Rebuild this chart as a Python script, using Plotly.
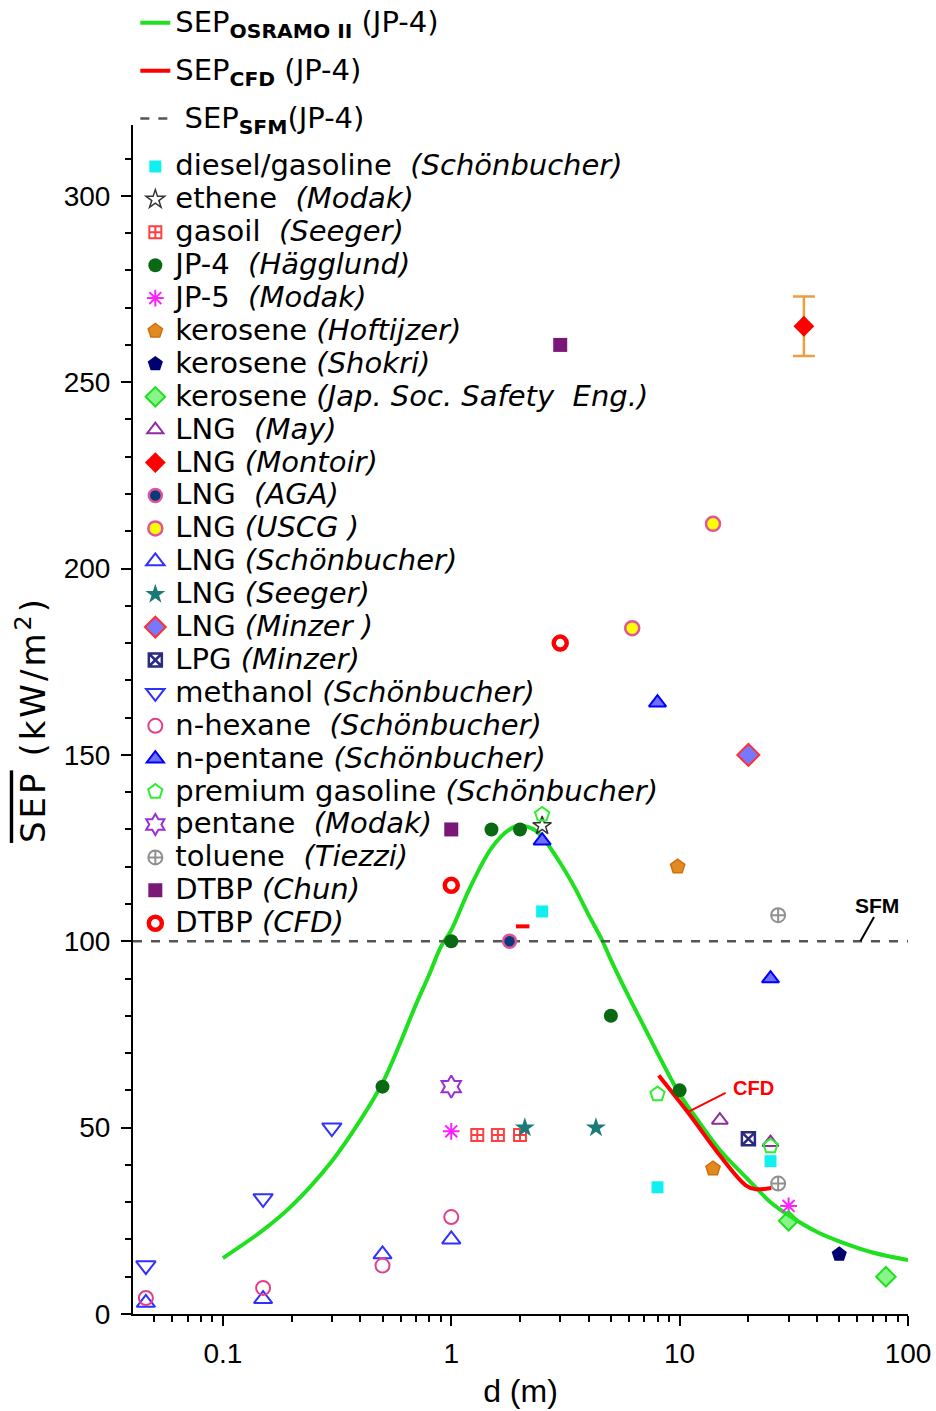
import math
import plotly.graph_objects as go

# ---------------- data ----------------
osramo_x = [0.1, 0.15, 0.2, 0.3, 0.4, 0.5, 0.6, 0.7, 0.8, 0.9, 1.0, 1.2, 1.5, 1.8, 2.0, 2.3, 2.5, 3.0, 3.5, 4.0, 4.6,
            5.0, 6.0, 7.0, 8.0, 10, 12, 15, 20, 25, 30, 40, 50, 70, 100]
osramo_y = [15, 22.5, 29, 41, 52, 62, 73, 83, 91, 98.5, 103, 114, 125, 130, 131, 130, 128, 121, 114, 107, 100,
            95, 85, 77, 70, 59, 52, 44, 36, 30, 26.5, 22, 19.5, 16.5, 14.5]

cfd_x = [8.1, 10.9, 14.8, 19.4, 21.4, 25.2]
cfd_y = [64, 54, 43, 34.6, 33.5, 33.8]
cfd_mark_x = [1.92, 2.2]
cfd_mark_y = [104, 104]

sfm_x = [0.0404, 100]
sfm_y = [100, 100]

diesel_x, diesel_y = [2.5, 8.0, 25], [108, 34, 41]
ethene_x, ethene_y = [2.5], [131]
gasoil_x, gasoil_y = [1.3, 1.6, 2.0], [48, 48, 48]
jp4_x, jp4_y = [0.5, 1.0, 1.5, 2.0, 5.0, 10], [61, 100, 130, 130, 80, 60]
jp5_x, jp5_y = [1.0, 30], [49, 29]
ker_hof_x, ker_hof_y = [9.8, 14], [120, 39]
ker_sho_x, ker_sho_y = [50], [16]
ker_jap_x, ker_jap_y = [30, 80], [25, 10]
lng_may_x, lng_may_y = [15, 25], [52, 46]
lng_mon_x, lng_mon_y, lng_mon_err = [35], [265], [8]
lng_aga_x, lng_aga_y = [1.8], [100]
lng_uscg_x, lng_uscg_y = [6.2, 14], [184, 212]
lng_sch_x, lng_sch_y = [0.046, 0.15, 0.5, 1.0], [3, 4, 16, 20]
lng_see_x, lng_see_y = [2.1, 4.3], [50, 50]
lng_min_x, lng_min_y = [20], [150]
lpg_min_x, lpg_min_y = [20], [47]
meth_x, meth_y = [0.046, 0.15, 0.3], [13, 31, 50]
hex_x, hex_y = [0.046, 0.15, 0.5, 1.0], [4.3, 7, 13, 26]
npent_x, npent_y = [2.5, 8.0, 25], [127, 164, 90]
prem_x, prem_y = [2.5, 8.0, 25], [134, 59, 45]
pent_x, pent_y = [1.0], [61]
tol_x, tol_y = [27, 27], [107, 35]
dtbp_chun_x, dtbp_chun_y = [3.0, 1.0], [260, 130]
dtbp_cfd_x, dtbp_cfd_y = [3.0, 1.0], [180, 115]

x_tick_vals = [0.1, 1, 10, 100]
x_tick_text = ["0.1", "1", "10", "100"]
x_minor_vals = [0.05, 0.06, 0.07, 0.08, 0.09, 0.2, 0.3, 0.4, 0.5, 0.6, 0.7, 0.8, 0.9,
                2, 3, 4, 5, 6, 7, 8, 9, 20, 30, 40, 50, 60, 70, 80, 90]

sfm_label = dict(x=72.8, y=109.7, text="SFM")
sfm_leader = dict(x0=61.9, y0=100, x1=71.0, y1=106.5)
cfd_label = dict(x=21.1, y=60.6, text="CFD")
cfd_leader = dict(x0=10.9, y0=54.2, x1=15.9, y1=59.3)

# ---------------- figure ----------------
NB = "\u00a0"
LEG_SPAN = "<span style='font-size:29px'>{}</span>"
fig = go.Figure()


def lab(s):
    return LEG_SPAN.format(s)


fig.add_trace(go.Scatter(x=osramo_x, y=osramo_y, mode="lines", line=dict(color="#1EE01E", width=4, shape="spline"),
                         name=lab("SEP<sub><b>OSRAMO II</b></sub>" + NB + "(JP-4)"), legendgroup="g1"))
fig.add_trace(go.Scatter(x=cfd_x, y=cfd_y, mode="lines", line=dict(color="#FF0000", width=4, shape="spline"),
                         name=lab("SEP<sub><b>CFD</b></sub>" + NB + "(JP-4)"), legendgroup="g2"))
fig.add_trace(go.Scatter(x=cfd_mark_x, y=cfd_mark_y, mode="lines", line=dict(color="#FF0000", width=4),
                         showlegend=False, legendgroup="g2"))
fig.add_trace(go.Scatter(x=sfm_x, y=sfm_y, mode="lines", line=dict(color="#555555", width=2.5, dash="dash"),
                         name=lab(NB + "SEP<sub><b>SFM</b></sub>(JP-4)"), legendgroup="g3"))


def pts(x, y, name, symbol, color, size=13, lw=0, lc=None, **kw):
    fig.add_trace(go.Scatter(x=x, y=y, mode="markers", name=lab(name), legendgroup="g4",
                             marker=dict(symbol=symbol, color=color, size=size,
                                         line=dict(width=lw, color=lc if lc else color)), **kw))


pts(diesel_x, diesel_y, "diesel/gasoline" + NB + " <i>(Schönbucher)</i>", "square", "#10F0F0", 12)
pts(ethene_x, ethene_y, "ethene" + NB + " <i>(Modak)</i>", "star-open", "#333333", 14, 1.5)
pts(gasoil_x, gasoil_y, "gasoil" + NB + " <i>(Seeger)</i>", "square-cross-open", "#FF4040", 12, 2)
pts(jp4_x, jp4_y, "JP-4" + NB + " <i>(Hägglund)</i>", "circle", "#0A6A14", 14)
pts(jp5_x, jp5_y, "JP-5" + NB + " <i>(Modak)</i>", "asterisk-open", "#FF20FF", 14, 2)
pts(ker_hof_x, ker_hof_y, "kerosene <i>(Hoftijzer)</i>", "pentagon", "#E08A20", 15, 1.5, "#D07010")
pts(ker_sho_x, ker_sho_y, "kerosene <i>(Shokri)</i>", "pentagon", "#000070", 16)
pts(ker_jap_x, ker_jap_y, "kerosene <i>(Jap. Soc. Safety" + NB + " Eng.)</i>", "diamond", "rgba(40,235,40,0.55)", 15, 2, "#20E020")
pts(lng_may_x, lng_may_y, "LNG" + NB + " <i>(May)</i>", "triangle-up-open", "#8E2E9E", 14, 2)
pts(lng_mon_x, lng_mon_y, "LNG <i>(Montoir)</i>", "diamond", "#FF0000", 16,
    error_y=dict(type="data", array=lng_mon_err, color="#E8A040", thickness=2.5, width=11))
pts(lng_aga_x, lng_aga_y, "LNG" + NB + " <i>(AGA)</i>", "circle", "#0A3A7A", 13, 2.5, "#E0559A")
pts(lng_uscg_x, lng_uscg_y, "LNG <i>(USCG )</i>", "circle", "#FFFF00", 14, 2.5, "#E0559A")
pts(lng_sch_x, lng_sch_y, "LNG <i>(Schönbucher)</i>", "triangle-up-open", "#3030FF", 16, 2)
pts(lng_see_x, lng_see_y, "LNG <i>(Seeger)</i>", "star", "#1A7A7A", 15)
pts(lng_min_x, lng_min_y, "LNG <i>(Minzer )</i>", "diamond", "#7878FF", 17, 2, "#FF3030")
pts(lpg_min_x, lpg_min_y, "LPG <i>(Minzer)</i>", "square-x-open", "#2A2A80", 13, 2.5)
pts(meth_x, meth_y, "methanol <i>(Schönbucher)</i>", "triangle-down-open", "#3030FF", 17, 2)
pts(hex_x, hex_y, "n-hexane" + NB + " <i>(Schönbucher)</i>", "circle-open", "#E0408A", 14, 2)
pts(npent_x, npent_y, "n-pentane <i>(Schönbucher)</i>", "triangle-up", "#7070FF", 15, 2, "#0000FF")
pts(prem_x, prem_y, "premium gasoline <i>(Schönbucher)</i>", "pentagon-open", "#30EE30", 15, 2)
pts(pent_x, pent_y, "pentane" + NB + " <i>(Modak)</i>", "hexagram-open", "#9A30D0", 17, 2)
pts(tol_x, tol_y, "toluene" + NB + " <i>(Tiezzi)</i>", "circle-cross-open", "#909090", 14, 2)
pts(dtbp_chun_x, dtbp_chun_y, "DTBP <i>(Chun)</i>", "square", "#7A1878", 14)
pts(dtbp_cfd_x, dtbp_cfd_y, "DTBP <i>(CFD)</i>", "circle-open", "#FF0000", 13, 4.5)

fig.add_annotation(x=math.log10(sfm_label["x"]), y=sfm_label["y"], xref="x", yref="y", text="<b>SFM</b>",
                   showarrow=False, font=dict(size=21, color="black", family="Liberation Sans, Arial"))
fig.add_annotation(x=math.log10(cfd_label["x"]), y=cfd_label["y"], xref="x", yref="y", text="<b>CFD</b>",
                   showarrow=False, font=dict(size=20, color="#FF0000", family="Liberation Sans, Arial"))
fig.add_shape(type="line", xref="x", yref="y", x0=sfm_leader["x0"], y0=sfm_leader["y0"],
              x1=sfm_leader["x1"], y1=sfm_leader["y1"], line=dict(color="black", width=2))
fig.add_shape(type="line", xref="x", yref="y", x0=cfd_leader["x0"], y0=cfd_leader["y0"],
              x1=cfd_leader["x1"], y1=cfd_leader["y1"], line=dict(color="#FF0000", width=2))

fig.update_layout(
    width=936, height=1411,
    margin=dict(l=133, r=28, t=125, b=97, autoexpand=False),
    paper_bgcolor="white", plot_bgcolor="white",
    font=dict(family="Liberation Sans, Arial", color="black"),
    showlegend=True,
    legend=dict(x=0.003, y=1.104, xanchor="left", yanchor="top", bgcolor="rgba(255,255,255,0)",
                font=dict(size=23, family="DejaVu Sans", color="black"), tracegroupgap=15,
                traceorder="grouped", itemwidth=30, maxheight=1.0),
    xaxis=dict(type="log", range=[math.log10(0.0404), 2.0], showline=True, linecolor="black", linewidth=2,
               showgrid=False, zeroline=False, ticks="outside", ticklen=10, tickwidth=2, tickcolor="black",
               tickvals=x_tick_vals, ticktext=x_tick_text, tickfont=dict(size=28), ticklabelstandoff=3,
               minor=dict(tickvals=x_minor_vals, ticks="outside", ticklen=6, tickwidth=2, tickcolor="black",
                          showgrid=False),
               title=dict(text="d (m)", font=dict(size=32), standoff=12)),
    yaxis=dict(range=[0, 319], showline=True, linecolor="black", linewidth=2, showgrid=False, zeroline=False,
               ticks="outside", ticklen=10, tickwidth=2, tickcolor="black", dtick=50, tickfont=dict(size=28),
               ticklabelstandoff=5,
               minor=dict(dtick=10, ticks="outside", ticklen=6, tickwidth=2, tickcolor="black", showgrid=False),
               title=dict(text="<span style='letter-spacing:3px'><span style='text-decoration:overline'>SEP</span>"
                               " (kW/m<sup>2</sup>)</span>",
                          font=dict(size=34, family="DejaVu Sans"), standoff=8)),
)

fig.write_html("out.html")
